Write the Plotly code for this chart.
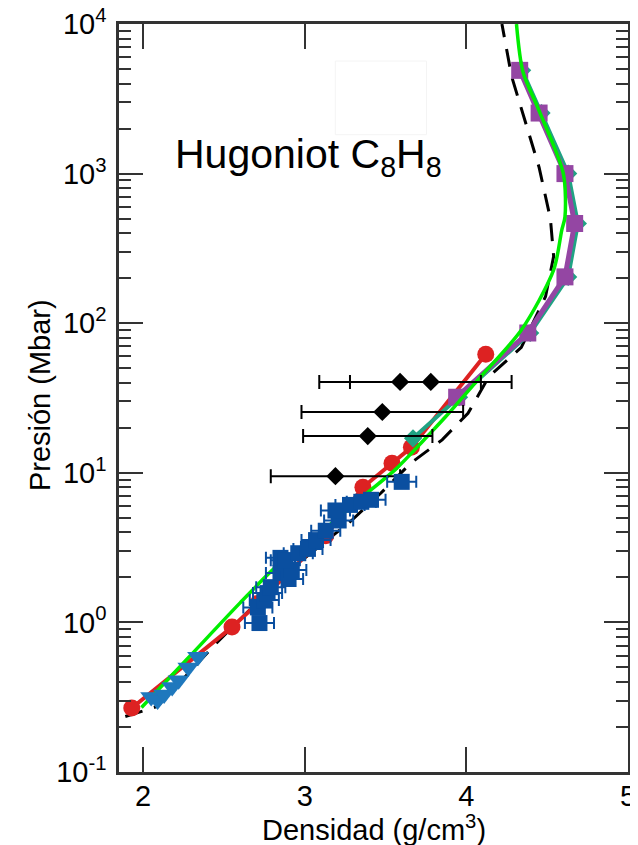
import plotly.graph_objects as go

# ---------------- data ----------------
green_d = [1.99, 2.28, 2.60, 2.82, 3.10, 3.35, 3.56, 3.66, 3.76, 3.87, 4.07, 4.34, 4.54, 4.59, 4.61, 4.60, 4.45, 4.35, 4.31]
green_p = [0.27, 0.58, 1.35, 2.34, 4.0, 6.8, 10.5, 13.5, 17.6, 23.6, 41.7, 90, 227, 418, 513, 1000, 2630, 4800, 10000]

dash_d = [1.89, 2.09, 2.45, 2.90, 3.29, 3.47, 3.66, 3.85, 4.01, 4.14, 4.34, 4.49, 4.54, 4.52, 4.45, 4.28, 4.22]
dash_p = [0.235, 0.275, 0.72, 2.2, 4.8, 7.3, 11.7, 16.6, 25, 44, 69, 151, 280, 500, 1100, 4470, 10000]

red_d = [1.93, 2.55, 2.71, 3.13, 3.36, 3.54, 3.66, 4.12]
red_p = [0.268, 0.93, 1.34, 3.8, 8.0, 11.6, 14.8, 62]

teal_d = [3.67, 3.955, 4.395, 4.63, 4.69, 4.63, 4.465, 4.345]
teal_p = [17, 32, 86, 204, 464, 1000, 2540, 4900]

purple_d = [3.94, 4.38, 4.61, 4.67, 4.61, 4.45, 4.33]
purple_p = [32, 86, 204, 464, 1000, 2540, 4900]

diam_d = [3.59, 3.78, 3.48, 3.39, 3.19]
diam_p = [40.5, 40.5, 25.5, 17.6, 9.5]
diam_err = [0.50, 0.50, 0.50, 0.40, 0.40]

blue_d = [2.72, 2.71, 2.75, 2.77, 2.79, 2.85, 2.90, 2.92, 2.85, 2.88, 2.96, 3.02, 3.07, 3.13, 3.21, 3.19, 3.28, 3.35, 3.41, 3.60]
blue_p = [0.99, 1.26, 1.41, 1.57, 1.72, 2.14, 1.95, 2.24, 2.7, 2.6, 2.9, 3.1, 3.55, 4.1, 4.8, 5.6, 6.1, 6.4, 6.6, 8.7]
blue_err = [0.09] * len(blue_d)

tri_d = [2.05, 2.09, 2.13, 2.18, 2.22, 2.28, 2.34]
tri_p = [0.317, 0.30, 0.33, 0.37, 0.41, 0.50, 0.59]

ytick_vals = [0.1, 1, 10, 100, 1000, 10000]
ytick_text = ["10<sup>-1</sup>", "10<sup>0</sup>", "10<sup>1</sup>", "10<sup>2</sup>", "10<sup>3</sup>", "10<sup>4</sup>"]
xtick_vals = [2, 3, 4, 5]
xtick_text = ["2", "3", "4", "5"]
minor_vals = [m * 10 ** e for e in range(-1, 4) for m in range(2, 10)]

# ---------------- figure ----------------
fig = go.Figure()

fig.add_trace(go.Scatter(x=dash_d, y=dash_p, mode="lines", line=dict(color="black", width=3, dash="18px,12px"), showlegend=False))
fig.add_trace(go.Scatter(x=red_d, y=red_p, mode="lines+markers", line=dict(color="#dd2222", width=4),
                         marker=dict(color="#dd2222", size=17, symbol="circle"), showlegend=False))
fig.add_trace(go.Scatter(x=teal_d, y=teal_p, mode="lines+markers", line=dict(color="#1fa383", width=4),
                         marker=dict(color="#1fa383", size=14, symbol="diamond"), showlegend=False))
fig.add_trace(go.Scatter(x=purple_d, y=purple_p, mode="lines+markers", line=dict(color="#9446a3", width=5),
                         marker=dict(color="#9446a3", size=17, symbol="square"), showlegend=False))
fig.add_trace(go.Scatter(x=green_d, y=green_p, mode="lines", line=dict(color="#00ee00", width=3.5, shape="spline", smoothing=0.8), showlegend=False))
fig.add_trace(go.Scatter(x=diam_d, y=diam_p, mode="markers",
                         marker=dict(color="black", size=14, symbol="diamond"),
                         error_x=dict(type="data", array=diam_err, color="black", thickness=2, width=7),
                         showlegend=False))
fig.add_trace(go.Scatter(x=blue_d, y=blue_p, mode="markers",
                         marker=dict(color="#0a4fa0", size=16, symbol="square"),
                         error_x=dict(type="data", array=blue_err, color="#0a4fa0", thickness=2, width=6),
                         showlegend=False))
fig.add_trace(go.Scatter(x=tri_d, y=tri_p, mode="markers",
                         marker=dict(color="#1f78bd", size=19, symbol="triangle-down"), showlegend=False))

axis_common = dict(showline=True, linecolor="#333", linewidth=2.5, mirror="ticks", ticks="inside",
                   tickcolor="#333", tickwidth=2, showgrid=False, zeroline=False, automargin=False,
                   ticklabeloverflow="allow")

fig.update_xaxes(range=[1.851, 5.0], tickmode="array", tickvals=xtick_vals, ticktext=xtick_text,
                 ticklen=25, tickfont=dict(size=29, color="black"), ticklabelstandoff=-4,
                 **axis_common)
fig.update_yaxes(type="log", range=[-1, 4], tickmode="array", tickvals=ytick_vals, ticktext=ytick_text,
                 ticklen=24, tickfont=dict(size=29, color="black"), ticklabelstandoff=4,
                 minor=dict(tickmode="array", tickvals=minor_vals, ticks="inside", ticklen=12,
                            tickcolor="#333", tickwidth=2),
                 **axis_common)

# axis titles as annotations for exact placement
fig.add_annotation(text="Densidad (g/cm<sup>3</sup>)", xref="paper", yref="paper",
                   x=0.5, y=-0.0749, xanchor="center", yanchor="middle", showarrow=False,
                   font=dict(size=29, color="black"))
fig.add_annotation(text="Presión (Mbar)", xref="paper", yref="paper", textangle=-90,
                   x=-0.155, y=0.504, xanchor="center", yanchor="middle", showarrow=False,
                   font=dict(size=29, color="black"))

fig.add_shape(type="rect", xref="paper", yref="paper", x0=0.425, x1=0.604, y0=0.852, y1=0.9505,
              line=dict(color="#f4f4f4", width=1), fillcolor="rgba(0,0,0,0)")

fig.add_annotation(text="Hugoniot C<sub>8</sub>H<sub>8</sub>", xref="paper", yref="paper",
                   x=0.106, y=0.822, xanchor="left", yanchor="middle", showarrow=False,
                   font=dict(size=41, color="black"))

# page body adds an 8px offset; margins compensate so the plot area lands at x 119-628, y 24-772
fig.update_layout(width=638, height=845, margin=dict(l=111, r=18, t=16, b=81),
                  paper_bgcolor="white", plot_bgcolor="white",
                  font=dict(family="Liberation Sans, Arial, sans-serif", color="black"))

fig.write_html("out.html")
